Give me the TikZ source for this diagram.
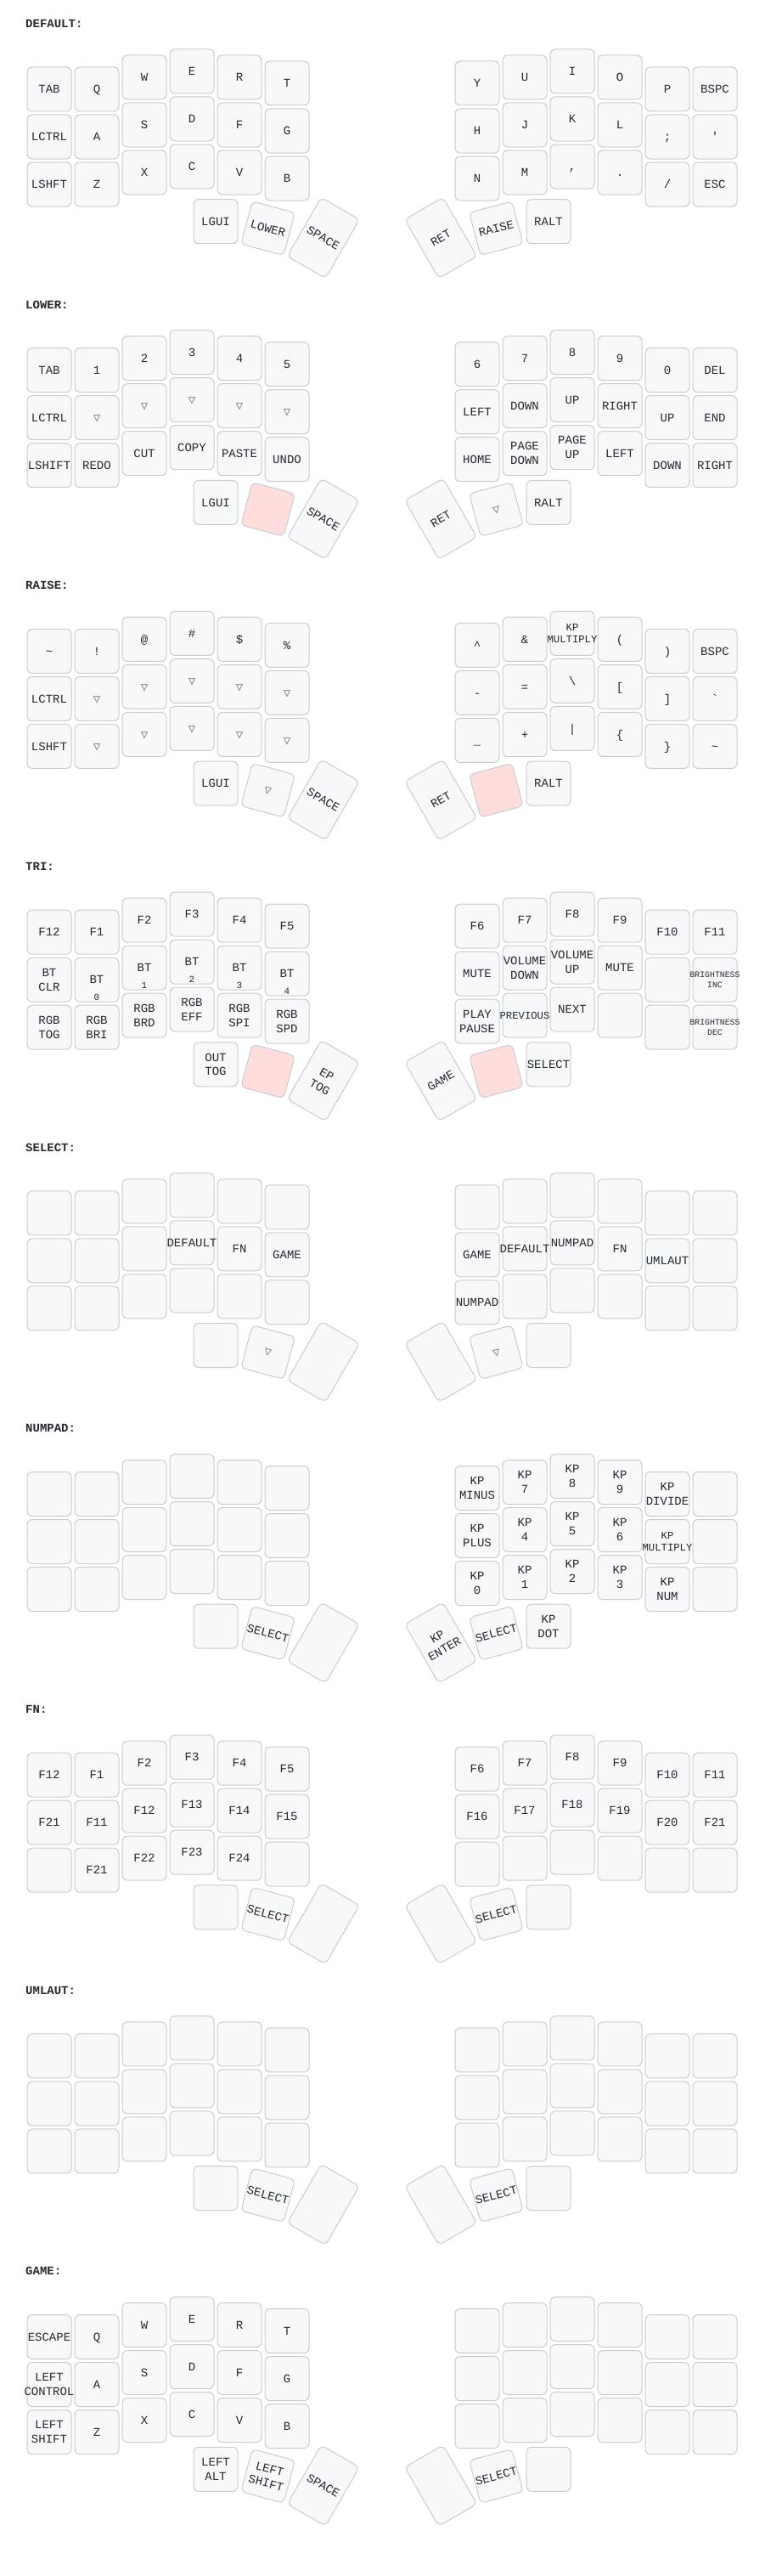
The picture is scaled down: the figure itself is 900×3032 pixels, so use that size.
\documentclass[tikz,border=0pt]{standalone}
\usepackage{fontspec}
\newfontfamily\keyfont{Liberation Mono}[Ligatures=TeXOff]
\newfontfamily\transfont{DejaVu Sans Mono}

\definecolor{keyfill}{HTML}{F6F8FA}
\definecolor{keyline}{HTML}{C9CCCF}
\definecolor{heldfill}{HTML}{FFDDDD}
\definecolor{ink}{HTML}{24292E}
\definecolor{transink}{HTML}{7B7E81}

% key centres in px: 3 rows of 12 (left half, right half), then 6 thumbs
\newcommand\keyxs{{58,114,170,226,282,338,562,618,674,730,786,842,%
  58,114,170,226,282,338,562,618,674,730,786,842,%
  58,114,170,226,282,338,562,618,674,730,786,842,%
  254,315.6,380.8,519.2,584.4,646}}
\newcommand\keyys{{105,105,91,84,91,98,98,91,84,91,105,105,%
  161,161,147,140,147,154,154,147,140,147,161,161,%
  217,217,203,196,203,210,210,203,196,203,217,217,%
  260.7,268.8,280,280,268.8,260.7}}

\newcommand\trans{{\transfont\color{transink}\char"25BD}}  % transparent key
\newcommand\heldkey{}                                       % layer key held
\def\heldmark{\heldkey}
\def\splitlines#1\\#2\\#3\relax{\def\lineA{#1}\def\lineB{#2}}
\newbox\lgbox
\newdimen\lgwd

% width of a legend line at full size (fonts only work outside the picture)
\newcommand\measureline[1]{%
  \pgfinterruptpicture
    \global\setbox\lgbox\hbox{\keyfont\fontsize{14pt}{14pt}\selectfont#1}%
  \endpgfinterruptpicture}

% one key of layer #3: index #1, legend #2 (two lines split by \\)
\newcommand\placekey[3]{%
  \pgfmathsetmacro\kx{\keyxs[#1]}%
  \pgfmathsetmacro\ky{\keyys[#1]+#3*330.7}%
  \ifnum#1<36 \def\ka{0}\def\kh{52}%
  \else
    \pgfmathsetmacro\ka{{0,-15,-30,30,15,0}[#1-36]}%
    \pgfmathsetmacro\kh{{52,52,80,80,52,52}[#1-36]}%
  \fi
  \expandafter\splitlines#2\\\\\relax
  \ifx\lineA\heldmark
    \node[keybox, pressed, minimum height=\kh pt, rotate=\ka] (L#3k#1) at (\kx,\ky) {};
  \else
    \node[keybox, minimum height=\kh pt, rotate=\ka] (L#3k#1) at (\kx,\ky) {};
    \ifx\lineA\empty\else
      % wide legends shrink to the width of 7 characters
      \measureline{\lineA}\lgwd=\wd\lgbox
      \measureline{\lineB}\ifdim\wd\lgbox>\lgwd \lgwd=\wd\lgbox\fi
      \ifdim\lgwd>60pt \pgfmathsetmacro\fs{14*58.8/\lgwd}\else\def\fs{14}\fi
      \pgfmathsetmacro\capht{0.66*\fs}%
      \pgfmathsetmacro\dy{0.6*\fs}%
      \ifx\lineB\empty
        \node[keylabel, rotate=\ka] (L#3t#1) at (L#3k#1.center) {\lineA};
      \else
        \node[keylabel, rotate=\ka, yshift=\dy pt] (L#3t#1) at (L#3k#1.center) {\lineA};
        \node[keylabel, rotate=\ka, yshift=-\dy pt] (L#3b#1) at (L#3k#1.center) {\lineB};
      \fi
    \fi
  \fi}

\newcommand\drawlayer[3]{%
  \node[layername] (name#1) at (30, 32.3+#1*330.7) {#2};
  \foreach \entry [count=\i from 0] in {#3} {\placekey{\i}{\entry}{#1}}}

\begin{document}
\begin{tikzpicture}[x=1pt, y=-1pt,
  keybox/.style    = {draw=keyline, fill=keyfill, line width=1pt, rounded corners=6pt,
                      minimum width=52pt, inner sep=0pt},
  pressed/.style   = {fill=heldfill},
  keylabel/.style  = {font=\keyfont\fontsize{\fs pt}{\fs pt}\selectfont, text=ink,
                      inner sep=0pt, text height=\capht pt, text depth=0pt},
  holdleg/.style   = {font=\keyfont\fontsize{11pt}{11pt}\selectfont, text=ink,
                      inner sep=0pt, text height=7.3pt, text depth=0pt},
  layername/.style = {font=\keyfont\bfseries\fontsize{14pt}{14pt}\selectfont, text=ink,
                      anchor=base west, inner sep=0pt},
]
  \path[fill=white, use as bounding box] (0,0) rectangle (900,3032);

  \drawlayer{0}{DEFAULT:}{%
    TAB, Q, W, E, R, T, Y, U, I, O, P, BSPC,
    LCTRL, A, S, D, F, G, H, J, K, L, {;}, \char"27,
    LSHFT, Z, X, C, V, B, N, M, {,}, {.}, {/}, ESC,
    LGUI, LOWER, SPACE, RET, RAISE, RALT}

  \drawlayer{1}{LOWER:}{%
    TAB, 1, 2, 3, 4, 5, 6, 7, 8, 9, 0, DEL,
    LCTRL, \trans, \trans, \trans, \trans, \trans, LEFT, DOWN, UP, RIGHT, UP, END,
    LSHIFT, REDO, CUT, COPY, PASTE, UNDO, HOME, PAGE\\DOWN, PAGE\\UP, LEFT, DOWN, RIGHT,
    LGUI, \heldkey, SPACE, RET, \trans, RALT}

  \drawlayer{2}{RAISE:}{%
    \char"7E, !, @, \char"23, \char"24, \char"25, \char"5E, \char"26, KP\\MULTIPLY, {(}, {)}, BSPC,
    LCTRL, \trans, \trans, \trans, \trans, \trans, {-}, {=}, \char"5C, {[}, {]}, \char"60,
    LSHFT, \trans, \trans, \trans, \trans, \trans, \char"5F, {+}, {|}, \char"7B, \char"7D, \char"7E,
    LGUI, \trans, SPACE, RET, \heldkey, RALT}

  \drawlayer{3}{TRI:}{%
    F12, F1, F2, F3, F4, F5, F6, F7, F8, F9, F10, F11,
    BT\\CLR, BT, BT, BT, BT, BT, MUTE, VOLUME\\DOWN, VOLUME\\UP, MUTE, {}, BRIGHTNESS\\INC,
    RGB\\TOG, RGB\\BRI, RGB\\BRD, RGB\\EFF, RGB\\SPI, RGB\\SPD,
    PLAY\\PAUSE, PREVIOUS, NEXT, {}, {}, BRIGHTNESS\\DEC,
    OUT\\TOG, \heldkey, EP\\TOG, GAME, \heldkey, SELECT}
  % bluetooth profile numbers sit at the bottom of their keys
  \foreach \k/\d in {13/0, 14/1, 15/2, 16/3, 17/4}
    \node[holdleg] (L3h\k) at ([yshift=-20.4pt]L3k\k.center) {\d};

  \drawlayer{4}{SELECT:}{%
    {}, {}, {}, {}, {}, {}, {}, {}, {}, {}, {}, {},
    {}, {}, {}, DEFAULT, FN, GAME, GAME, DEFAULT, NUMPAD, FN, UMLAUT, {},
    {}, {}, {}, {}, {}, {}, NUMPAD, {}, {}, {}, {}, {},
    {}, \trans, {}, {}, \trans, {}}

  \drawlayer{5}{NUMPAD:}{%
    {}, {}, {}, {}, {}, {}, KP\\MINUS, KP\\7, KP\\8, KP\\9, KP\\DIVIDE, {},
    {}, {}, {}, {}, {}, {}, KP\\PLUS, KP\\4, KP\\5, KP\\6, KP\\MULTIPLY, {},
    {}, {}, {}, {}, {}, {}, KP\\0, KP\\1, KP\\2, KP\\3, KP\\NUM, {},
    {}, SELECT, {}, KP\\ENTER, SELECT, KP\\DOT}

  \drawlayer{6}{FN:}{%
    F12, F1, F2, F3, F4, F5, F6, F7, F8, F9, F10, F11,
    F21, F11, F12, F13, F14, F15, F16, F17, F18, F19, F20, F21,
    {}, F21, F22, F23, F24, {}, {}, {}, {}, {}, {}, {},
    {}, SELECT, {}, {}, SELECT, {}}

  \drawlayer{7}{UMLAUT:}{%
    {}, {}, {}, {}, {}, {}, {}, {}, {}, {}, {}, {},
    {}, {}, {}, {}, {}, {}, {}, {}, {}, {}, {}, {},
    {}, {}, {}, {}, {}, {}, {}, {}, {}, {}, {}, {},
    {}, SELECT, {}, {}, SELECT, {}}

  \drawlayer{8}{GAME:}{%
    ESCAPE, Q, W, E, R, T, {}, {}, {}, {}, {}, {},
    LEFT\\CONTROL, A, S, D, F, G, {}, {}, {}, {}, {}, {},
    LEFT\\SHIFT, Z, X, C, V, B, {}, {}, {}, {}, {}, {},
    LEFT\\ALT, LEFT\\SHIFT, SPACE, {}, SELECT, {}}
\end{tikzpicture}
\end{document}
